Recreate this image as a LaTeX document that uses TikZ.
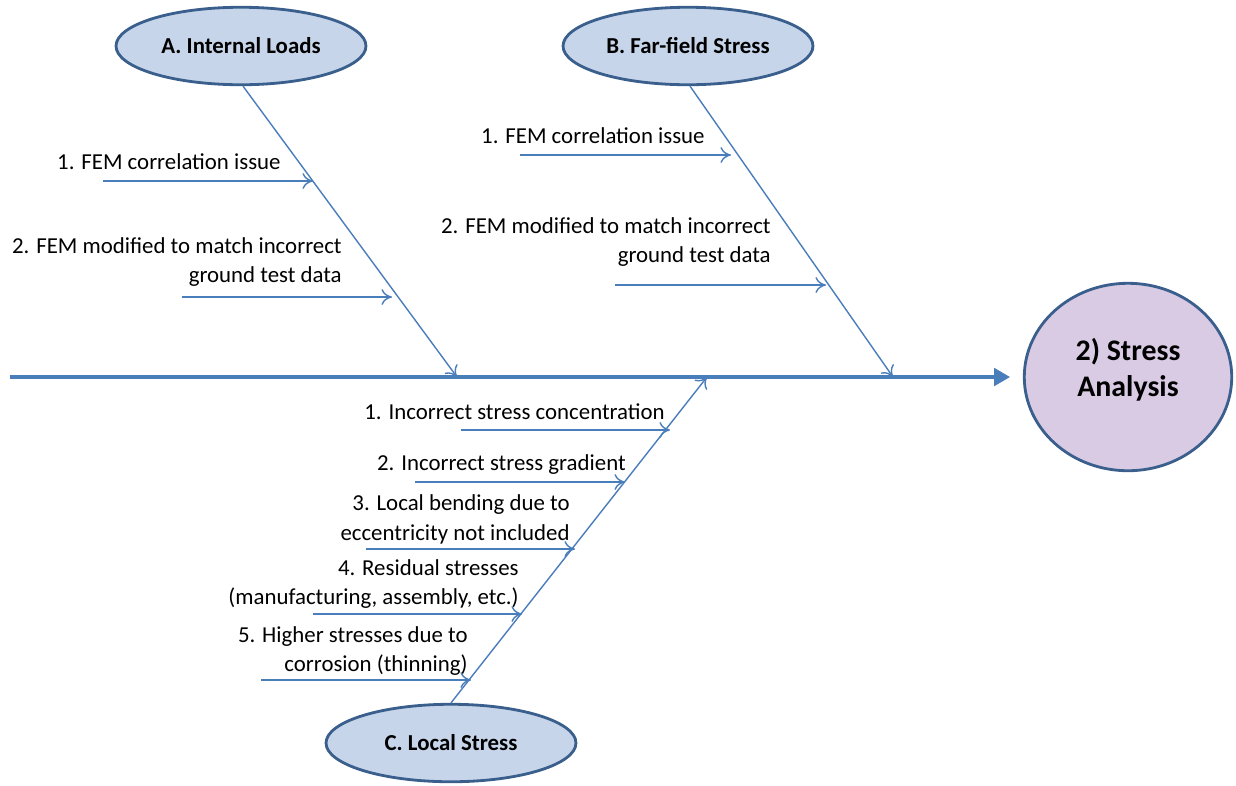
\documentclass[tikz,border=0pt]{standalone}
\usepackage{fontspec}
\setmainfont{Carlito}
\usetikzlibrary{arrows.meta, shapes.geometric}
\definecolor{boneblue}{HTML}{4A7EBB}
\definecolor{rimblue}{HTML}{3A5F8C}
\definecolor{causefill}{HTML}{C6D5EA}
\definecolor{headfill}{HTML}{DACBE5}
\tikzstyle{cause}=[ellipse, draw=rimblue, line width=1.6pt, fill=causefill,
                   minimum width=5.0cm, minimum height=1.55cm, inner sep=0pt,
                   font=\fontsize{13}{16}\selectfont\bfseries]
\tikzstyle{head}=[ellipse, draw=rimblue, line width=1.6pt, fill=headfill,
                  minimum width=4.15cm, minimum height=3.75cm, align=center,
                  text depth=0.4cm, font=\fontsize{17}{20.5}\selectfont\bfseries]
\tikzstyle{note}=[inner sep=0pt, align=right, anchor=east,
                  font=\fontsize{13}{17}\selectfont]
\tikzstyle{bone}=[-{To[length=6pt, width=9pt]}, boneblue, line width=0.8pt]
\tikzstyle{spine}=[-{Triangle[length=9pt, width=10pt]}, boneblue, line width=1.8pt]

\begin{document}
\begin{tikzpicture}[x=0.02cm, y=-0.02cm]
  \useasboundingbox (0,0) rectangle (1236,785);

  % Head and causes
  \node[head] (stress) at (1128,377) {2) Stress\\Analysis};
  \node[cause] (loads) at (241,46) {A. Internal Loads};
  \node[cause] (far) at (688,46) {B. Far-field Stress};
  \node[cause] (local) at (451,743) {C. Local Stress};

  % Spine
  \coordinate (tail) at (10,377);
  \coordinate (tip) at (1010,377);
  \draw[spine] (tail) -- (tip);

  % Bones
  \coordinate (jA) at (457,377);
  \coordinate (jB) at (893,377);
  \coordinate (jC) at (707,377);
  \draw[bone] (loads.south) ++(2,0) -- (jA);
  \draw[bone] (far.south) ++(2,0) -- (jB);
  \draw[bone] (local.north) -- (jC);

  % A. Internal Loads
  \node[note] (a1) at (281,162) {1. FEM correlation issue};
  \node[note] (a2) at (342,262) {2. FEM modified to match incorrect\\ground test data};
  \coordinate (a1s) at (103,181);  \coordinate (a1e) at (313,181);
  \coordinate (a2s) at (182,297);  \coordinate (a2e) at (392,297);
  \draw[bone] (a1s) -- (a1e);
  \draw[bone] (a2s) -- (a2e);

  % B. Far-field Stress
  \node[note] (b1) at (705,136) {1. FEM correlation issue};
  \node[note] (b2) at (771,242) {2. FEM modified to match incorrect\\ground test data};
  \coordinate (b1s) at (520,155);  \coordinate (b1e) at (731,155);
  \coordinate (b2s) at (615,285);  \coordinate (b2e) at (826,285);
  \draw[bone] (b1s) -- (b1e);
  \draw[bone] (b2s) -- (b2e);

  % C. Local Stress
  \node[note] (c1) at (665,412) {1. Incorrect stress concentration};
  \node[note] (c2) at (626,465) {2. Incorrect stress gradient};
  \node[note] (c3) at (570,519) {3. Local bending due to\\eccentricity not included};
  \node[note] (c4) at (519,584) {4. Residual stresses\\(manufacturing, assembly, etc.)};
  \node[note] (c5) at (468,651) {5. Higher stresses due to\\corrosion (thinning)};
  \coordinate (c1s) at (461,430);  \coordinate (c1e) at (670,430);
  \coordinate (c2s) at (415,482);  \coordinate (c2e) at (625,482);
  \coordinate (c3s) at (366,549);  \coordinate (c3e) at (575,549);
  \coordinate (c4s) at (313,614);  \coordinate (c4e) at (522,614);
  \coordinate (c5s) at (261,680);  \coordinate (c5e) at (471,680);
  \foreach \c in {c1,c2,c3,c4,c5}
    \draw[bone] (\c s) -- (\c e);
\end{tikzpicture}
\end{document}
